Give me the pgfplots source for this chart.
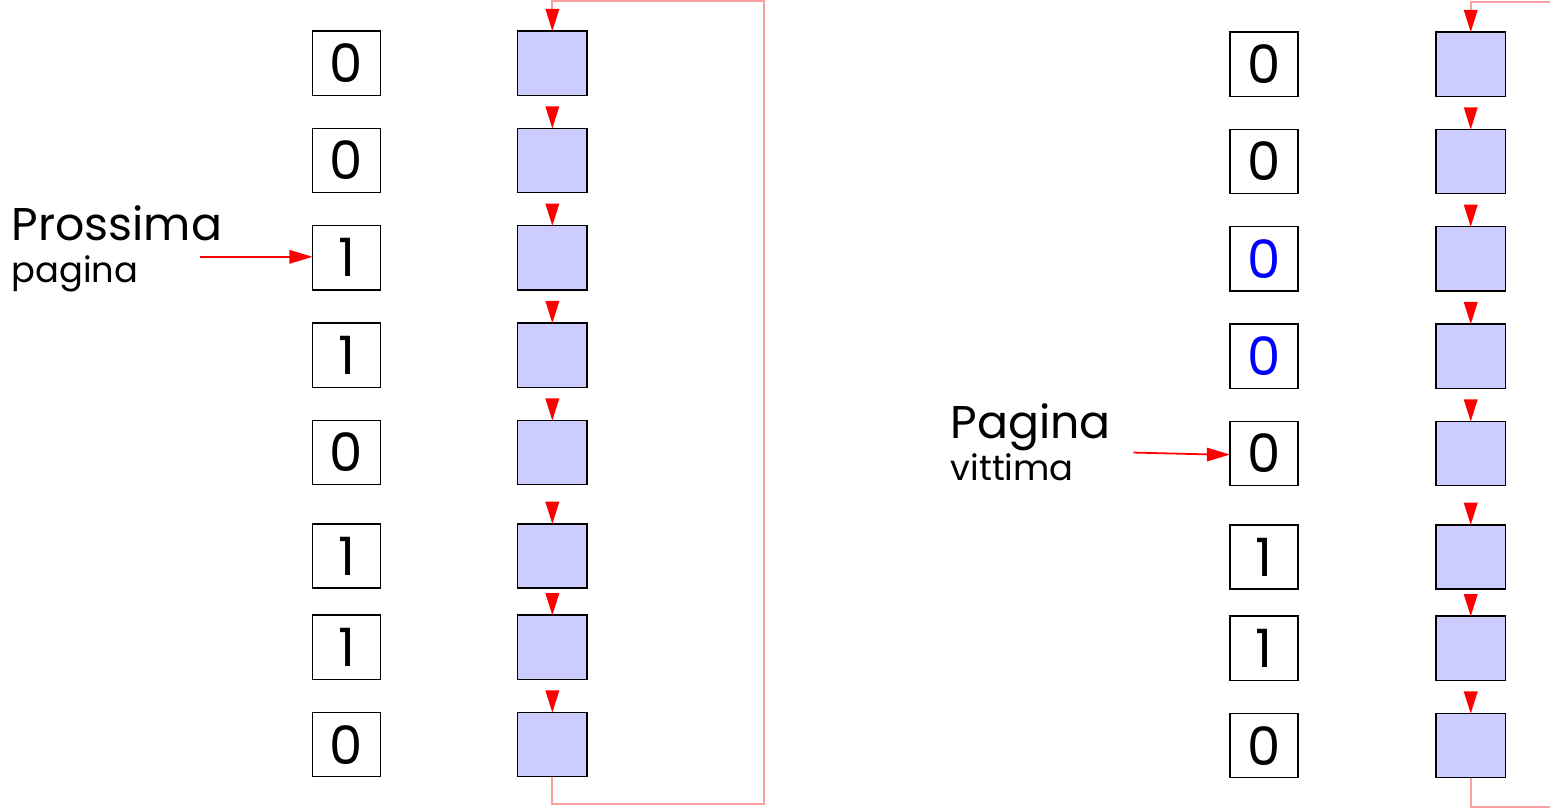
\documentclass[border=0pt]{standalone}
\usepackage{pgfplots}
\pgfplotsset{compat=1.18}
\usepackage{fontspec}
\setmainfont{Poppins}
\definecolor{boxblue}{RGB}{204,204,255}
\definecolor{lred}{RGB}{250,160,160}
\newcommand{\bitrow}[5]{% xbit, xblue, y, bit, colour
  \draw[black,fill=white] (axis cs:#1-34,#3-32) rectangle (axis cs:#1+34,#3+32);
  \node[text=#5] at (axis cs:#1,#3) {\fontsize{15}{18}\selectfont #4};
  \draw[black,fill=boxblue] (axis cs:#2-34.5,#3-32) rectangle (axis cs:#2+34.5,#3+32);
  \fill[red] (axis cs:#2,#3-32) -- (axis cs:#2-7,#3-54) -- (axis cs:#2+7,#3-54) -- cycle;
}
\begin{document}
\begin{tikzpicture}
\begin{axis}[width=15.5cm,height=9.24cm,scale only axis,axis lines=none,
  xmin=0,xmax=1550,ymin=0,ymax=924,y dir=reverse,clip=true]
\addplot[lred,line width=0.5pt] coordinates {(556,866)(556,893)(767,893)(767,93)(556,93)(556,110)};
\addplot[lred,line width=0.5pt] coordinates {(1471,867)(1471,896)(1560,896)};
\addplot[lred,line width=0.5pt] coordinates {(1560,94)(1471,94)(1471,110)};
\addplot[red,line width=0.5pt] coordinates {(205,348)(300,348)};
\addplot[red,line width=0.5pt] coordinates {(1135,543)(1215,545)};
\fill[red] (axis cs:317,348) -- (axis cs:294,341) -- (axis cs:294,355) -- cycle;
\fill[red] (axis cs:1231,545) -- (axis cs:1208,538) -- (axis cs:1208,552) -- cycle;
\bitrow{351}{556}{155}{0}{black}
\bitrow{351}{556}{252}{0}{black}
\bitrow{351}{556}{349}{1}{black}
\bitrow{351}{556}{446}{1}{black}
\bitrow{351}{556}{543}{0}{black}
\bitrow{351}{556}{646}{1}{black}
\bitrow{351}{556}{737}{1}{black}
\bitrow{351}{556}{834}{0}{black}
\bitrow{1265}{1471}{156}{0}{black}
\bitrow{1265}{1471}{253}{0}{black}
\bitrow{1265}{1471}{350}{0}{blue}
\bitrow{1265}{1471}{447}{0}{blue}
\bitrow{1265}{1471}{544}{0}{black}
\bitrow{1265}{1471}{647}{1}{black}
\bitrow{1265}{1471}{738}{1}{black}
\bitrow{1265}{1471}{835}{0}{black}
\node[anchor=west,align=left] at (axis cs:5,340) {\fontsize{13}{15.5}\selectfont Prossima\\pagina};
\node[anchor=east,align=left] at (axis cs:1125,533) {\fontsize{13}{15.5}\selectfont Pagina\\vittima};
\end{axis}
\end{tikzpicture}
\end{document}
